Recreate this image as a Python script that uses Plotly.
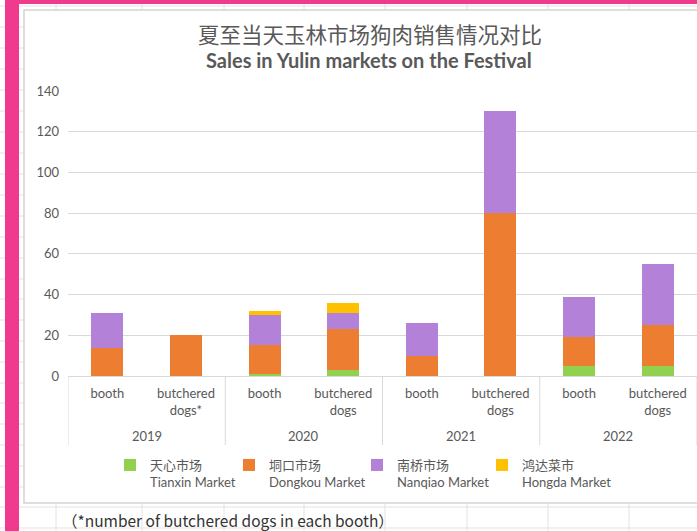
import plotly.graph_objects as go

years = ["2019", "2020", "2021", "2022"]
kinds = ["booth", "butchered<br>dogs*", "booth", "butchered<br>dogs",
         "booth", "butchered<br>dogs", "booth", "butchered<br>dogs"]
positions = [0, 1, 2, 3, 4, 5, 6, 7]

tianxin = [0, 0, 1, 3, 0, 0, 5, 5]
dongkou = [14, 20, 14, 20, 10, 80, 14, 20]
nanqiao = [17, 0, 15, 8, 16, 50, 20, 30]
hongda = [0, 0, 2, 5, 0, 0, 0, 0]

series_names = ["天心市场<br>Tianxin Market", "垌口市场<br>Dongkou Market",
                "南桥市场<br>Nanqiao Market", "鸿达菜市<br>Hongda Market"]
series_values = [tianxin, dongkou, nanqiao, hongda]
series_colors = ["#92D050", "#ED7D31", "#B481D9", "#FFC000"]

y_ticks = [0, 20, 40, 60, 80, 100, 120, 140]

W, H = 697, 531
L, R, T, B = 68, 0, 91, 155
PW, PH = W - L - R, H - T - B


def px(x):
    return (x - L) / PW


def py(y):
    return (H - B - y) / PH


legend_ids = ["legend", "legend2", "legend3", "legend4"]
legend_x = [110, 229, 357, 482]

fig = go.Figure()
for name, vals, col, lid in zip(series_names, series_values, series_colors, legend_ids):
    fig.add_trace(go.Bar(
        x=positions, y=vals, name=name, legend=lid,
        marker=dict(color=col, line=dict(width=0)),
    ))

GRID = "#E2E2E2"
shapes = []
# spreadsheet background lines
for cx in [56, 142, 224, 304, 385, 467, 548, 629]:
    shapes.append(dict(type="line", xref="paper", yref="paper",
                       x0=px(cx), x1=px(cx), y0=py(0), y1=py(531),
                       line=dict(color=GRID, width=1), layer="below"))
for ry in [6, 27, 48, 69, 90, 111, 132, 153, 174, 195, 216, 237, 258, 279,
           299, 320, 341, 362, 383, 403, 424, 445, 466, 487, 507, 528]:
    shapes.append(dict(type="line", xref="paper", yref="paper",
                       x0=px(0), x1=px(697), y0=py(ry), y1=py(ry),
                       line=dict(color=GRID, width=1), layer="below"))
# chart area (white box with border)
shapes.append(dict(type="rect", xref="paper", yref="paper",
                   x0=px(24), x1=px(705), y0=py(503), y1=py(10),
                   fillcolor="white", line=dict(color="#D4D4D4", width=1.5),
                   layer="below"))
# pink bars
shapes.append(dict(type="rect", xref="paper", yref="paper",
                   x0=px(5), x1=px(19), y0=py(531), y1=py(0),
                   fillcolor="#F03A8E", line=dict(width=0), layer="above"))
shapes.append(dict(type="rect", xref="paper", yref="paper",
                   x0=px(5), x1=px(697), y0=py(4), y1=py(0),
                   fillcolor="#F03A8E", line=dict(width=0), layer="above"))
# category group dividers
for dx in [-0.5, 1.5, 3.5, 5.5, 7.5]:
    shapes.append(dict(type="line", xref="x", yref="paper",
                       x0=dx, x1=dx, y0=py(376), y1=py(445),
                       line=dict(color="#D9D9D9", width=1), layer="above"))

annotations = [
    dict(text="夏至当天玉林市场狗肉销售情况对比", xref="paper", yref="paper",
         x=px(370), y=py(33), yanchor="middle", showarrow=False,
         font=dict(family="Noto Sans CJK SC", size=21.5, color="#595959")),
    dict(text="<b>Sales in Yulin markets on the Festival</b>", xref="paper", yref="paper",
         x=px(369), y=py(60), yanchor="middle", showarrow=False,
         font=dict(family="Lato", size=20, color="#595959")),
    dict(text="（*number of butchered dogs in each booth）", xref="paper", yref="paper",
         x=px(60), y=py(520), xanchor="left", yanchor="middle", showarrow=False,
         font=dict(family="Noto Sans CJK SC", size=15.5, color="#333333")),
]
for i, yr in enumerate(years):
    annotations.append(dict(text=yr, xref="x", yref="paper", x=2 * i + 0.5, y=py(436),
                            yanchor="middle", showarrow=False,
                            font=dict(family="Lato", size=13, color="#595959")))

legend_style = dict(orientation="h", xanchor="left", y=py(450), yanchor="top",
                    valign="top", bgcolor="rgba(0,0,0,0)", itemwidth=30,
                    font=dict(family="Lato, Noto Sans CJK SC", size=13, color="#595959"))
legends = {lid: dict(legend_style, x=px(lx)) for lid, lx in zip(legend_ids, legend_x)}

fig.update_layout(
    width=W, height=H,
    margin=dict(l=L, r=R, t=T, b=B, pad=0),
    barmode="stack", bargap=0.593,
    paper_bgcolor="white", plot_bgcolor="rgba(0,0,0,0)",
    font=dict(family="Lato, Noto Sans CJK SC", color="#595959", size=13),
    showlegend=True,
    shapes=shapes, annotations=annotations,
    xaxis=dict(range=[-0.5, 7.5], tickvals=positions, ticktext=kinds,
               showline=True, linecolor="#D9D9D9", showgrid=False, zeroline=False,
               ticks="", ticklabelstandoff=5,
               tickfont=dict(size=13, color="#595959")),
    yaxis=dict(range=[0, 140], tickvals=y_ticks, showgrid=True, gridcolor="#D9D9D9",
               zeroline=False, showline=False, ticklabelstandoff=8,
               tickfont=dict(size=13, color="#595959")),
    **legends,
)

fig.write_html("out.html", config={"displayModeBar": False},
               post_script="document.body.style.margin='0';")
